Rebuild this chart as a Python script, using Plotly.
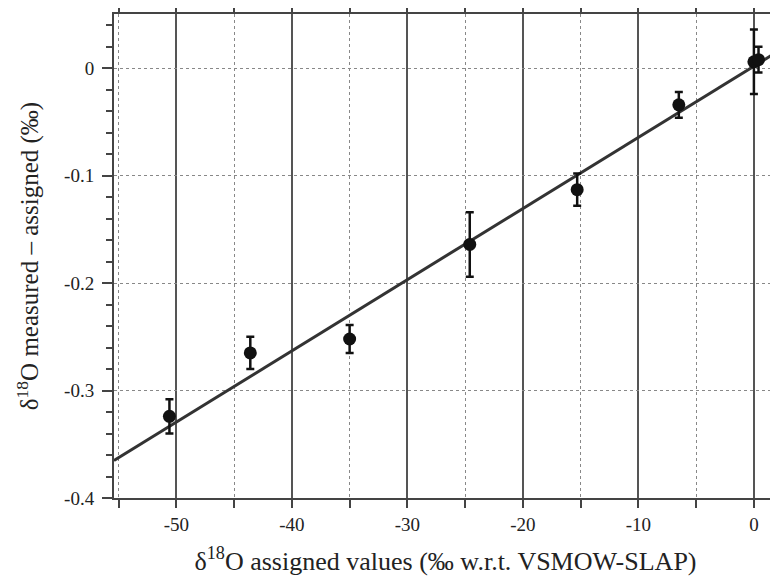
import plotly.graph_objects as go

# Data
x_assigned = [-50.6, -43.6, -35.0, -24.6, -15.3, -6.5, 0.0, 0.4]
y_diff = [-0.324, -0.265, -0.252, -0.164, -0.113, -0.034, 0.006, 0.008]
y_err = [0.016, 0.015, 0.013, 0.030, 0.015, 0.012, 0.030, 0.012]

fit_x = [-55.4, 2.0]
fit_y = [-0.365, 0.0152]

x_ticks = [-50, -40, -30, -20, -10, 0]
y_ticks = [0, -0.1, -0.2, -0.3, -0.4]
y_tick_labels = ["0", "-0.1", "-0.2", "-0.3", "-0.4"]

font_family = "Times New Roman, Liberation Serif, DejaVu Serif, serif"

fig = go.Figure()
fig.add_trace(go.Scatter(
    x=fit_x, y=fit_y, mode="lines",
    line=dict(color="#333333", width=3),
    showlegend=False, hoverinfo="skip"))
fig.add_trace(go.Scatter(
    x=x_assigned, y=y_diff, mode="markers",
    marker=dict(color="#111111", size=13),
    error_y=dict(type="data", array=y_err, visible=True,
                 color="#111111", thickness=2.5, width=4),
    showlegend=False))

# page body has an 8px margin, so the figure is 8px smaller and offset
fig.update_layout(
    width=770, height=571,
    margin=dict(l=106, r=1, t=6, b=81, autoexpand=False),
    paper_bgcolor="white", plot_bgcolor="white",
    font=dict(family=font_family, color="#222222", size=19),
    xaxis=dict(
        range=[-55.4, 2.0], automargin=False,
        tickvals=x_ticks, ticktext=[str(v) for v in x_ticks],
        showline=True, linecolor="#444444", linewidth=2, mirror="ticks",
        ticks="outside", ticklen=8, tickwidth=1.5, tickcolor="#444444",
        showgrid=True, gridcolor="#555555", gridwidth=1.5,
        minor=dict(dtick=5, tick0=-55, ticks="outside", ticklen=8,
                   tickwidth=1.5, tickcolor="#444444",
                   showgrid=True, gridcolor="#888888", griddash="dot",
                   gridwidth=1.2),
        zeroline=False,
        title=dict(text="δ<sup>18</sup>O assigned values (‰ w.r.t. VSMOW-SLAP)",
                   font=dict(size=26, family=font_family), standoff=18),
        tickfont=dict(size=19, family=font_family),
    ),
    yaxis=dict(
        range=[-0.4, 0.0505], automargin=False,
        tickvals=y_ticks, ticktext=y_tick_labels,
        showline=True, linecolor="#444444", linewidth=2, mirror="ticks",
        ticks="outside", ticklen=10, tickwidth=1.5, tickcolor="#444444",
        ticklabelstandoff=4,
        showgrid=True, gridcolor="#888888", griddash="dot", gridwidth=1.2,
        minor=dict(dtick=0.02, tick0=0, ticks="outside", ticklen=6,
                   tickwidth=1.5, tickcolor="#444444", showgrid=False),
        zeroline=False,
        title=dict(text="δ<sup>18</sup>O measured – assigned (‰)",
                   font=dict(size=25, family=font_family), standoff=18),
        tickfont=dict(size=19, family=font_family),
    ),
)

fig.write_html("out.html")
